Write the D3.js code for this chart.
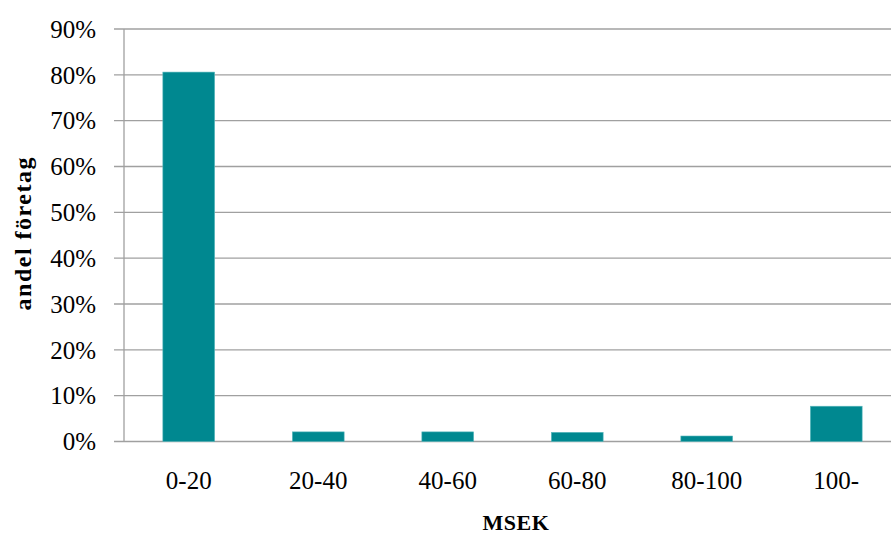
<!DOCTYPE html>
<html>
<head>
<meta charset="utf-8">
<script src="https://cdn.jsdelivr.net/npm/d3@7"></script>
<style>
  html, body { margin: 0; padding: 0; background: #fff; overflow: hidden; }
  svg { display: block; }
  text { font-family: "Liberation Serif", "DejaVu Serif", serif; fill: #000; }
</style>
</head>
<body>
<div id="chart"></div>
<script>
// Share of companies per turnover class (MSEK)
const categories = ["0-20", "20-40", "40-60", "60-80", "80-100", "100-"];
const shares = [0.806, 0.021, 0.021, 0.020, 0.012, 0.077];
const yTicks = [0, 0.1, 0.2, 0.3, 0.4, 0.5, 0.6, 0.7, 0.8, 0.9];
const yTitle = "andel företag";
const xTitle = "MSEK";

const W = 891, H = 534;
// plot area runs a little past the right edge of the canvas
const margin = { top: 29, left: 124 };
const plotW = 777;
const innerH = 441.5 - margin.top;

const svg = d3.select("#chart").append("svg")
  .attr("width", W).attr("height", H);

const g = svg.append("g")
  .attr("transform", `translate(${margin.left},${margin.top})`);

const x = d3.scaleBand().domain(categories).range([0, plotW])
  .paddingInner(0.6).paddingOuter(0.3);
const y = d3.scaleLinear().domain([0, 0.9]).range([innerH, 0]);

// horizontal gridlines with short tick marks to the left
g.append("g").selectAll("line").data(yTicks).join("line")
  .attr("x1", -10).attr("x2", plotW)
  .attr("y1", d => y(d)).attr("y2", d => y(d))
  .attr("stroke", "#a0a0a0").attr("stroke-width", 1.3);

// vertical axis line
g.append("line")
  .attr("x1", 0).attr("x2", 0).attr("y1", 0).attr("y2", innerH)
  .attr("stroke", "#a0a0a0").attr("stroke-width", 1.3);

// bars
g.append("g").selectAll("rect").data(shares).join("rect")
  .attr("x", (d, i) => x(categories[i]))
  .attr("width", x.bandwidth())
  .attr("y", d => y(d))
  .attr("height", d => innerH - y(d))
  .attr("fill", "#008890")
  .attr("stroke", "#5cb9be").attr("stroke-width", 0.6);

// y tick labels
const fmt = d3.format(".0%");
g.append("g").selectAll("text").data(yTicks).join("text")
  .attr("x", -28).attr("y", d => y(d)).attr("dy", "0.35em")
  .attr("text-anchor", "end").attr("font-size", 25)
  .text(d => fmt(d));

// x tick labels
g.append("g").selectAll("text").data(categories).join("text")
  .attr("x", d => x(d) + x.bandwidth() / 2)
  .attr("y", innerH + 47)
  .attr("text-anchor", "middle").attr("font-size", 25)
  .text(d => d);

// axis titles
svg.append("text")
  .attr("x", 516).attr("y", 530)
  .attr("text-anchor", "middle").attr("font-size", 22).attr("font-weight", "bold")
  .attr("letter-spacing", 0.5)
  .text(xTitle);

svg.append("text")
  .attr("transform", `translate(31,${margin.top + innerH / 2 - 2}) rotate(-90)`)
  .attr("text-anchor", "middle").attr("font-size", 24).attr("font-weight", "bold")
  .attr("letter-spacing", 1.5)
  .text(yTitle);
</script>
</body>
</html>
